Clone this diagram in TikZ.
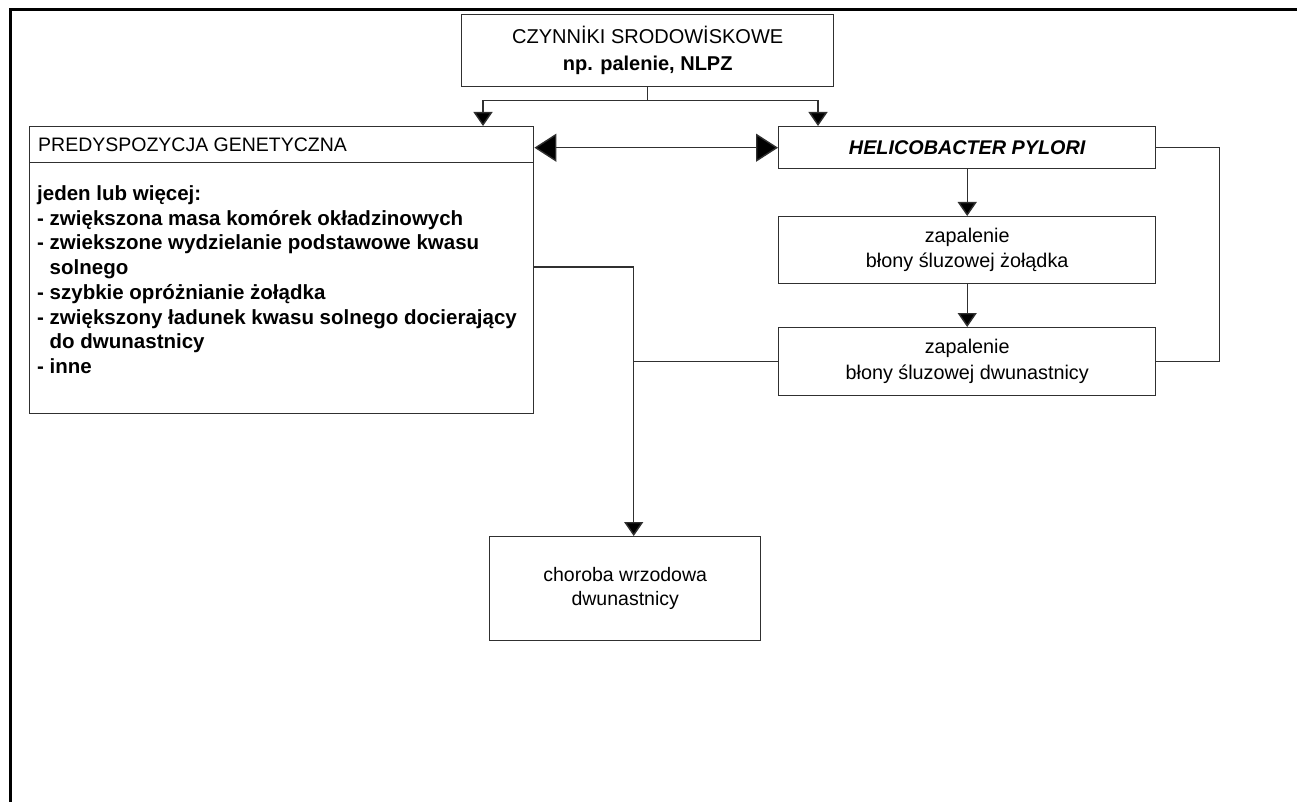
\documentclass[tikz,border=0pt]{standalone}
\usepackage{fontspec}
\setmainfont{Liberation Sans}
\usetikzlibrary{arrows.meta}
\definecolor{linegray}{HTML}{303030}
\begin{document}
\begin{tikzpicture}[x=1pt,y=-1pt,
  box/.style={draw=linegray,line width=1.4pt,inner sep=0pt,anchor=north west,align=center},
  conn/.style={draw=linegray,line width=1.4pt},
  arr/.style={conn,-{Triangle[length=14pt,width=19pt,fill=black]}},
  bigarr/.style={conn,{Triangle[length=22pt,width=28pt,fill=black]}-{Triangle[length=22pt,width=28pt,fill=black]}},
  reg/.style={font=\fontsize{19.8}{25}\selectfont},
]
\useasboundingbox (0,0) rectangle (1297,802);
\fill[white] (0,0) rectangle (1297,802);
\draw[line width=3pt] (10.5,802) -- (10.5,9.5) -- (1297,9.5);

\node[box,minimum width=372pt,minimum height=72pt,font=\fontsize{20}{27}\selectfont] (env) at (461,14)
  {CZYNNİKI SRODOWİSKOWE\\\textbf{np. palenie, NLPZ}};
\node[box,minimum width=504pt,minimum height=287pt] (pred) at (29,126) {};
\draw[conn] (pred.north west) ++(0,36.5) coordinate (divL) -- (divL -| pred.east);
\node[anchor=west,inner sep=0pt,font=\fontsize{19.5}{25}\selectfont] (predh) at (38,144.5) {PREDYSPOZYCJA GENETYCZNA};
\node[anchor=north west,inner sep=0pt,align=left,font=\fontsize{20.5}{24.7}\selectfont\bfseries] (predl) at (37,185.5)
  {jeden lub więcej:\\
   - zwiększona masa komórek okładzinowych\\
   - zwiekszone wydzielanie podstawowe kwasu\\
   \phantom{- }solnego\\
   - szybkie opróżnianie żołądka\\
   - zwiększony ładunek kwasu solnego docierający\\
   \phantom{- }do dwunastnicy\\
   - inne};

\node[box,minimum width=377pt,minimum height=42pt,font=\fontsize{19.8}{25}\selectfont\bfseries\itshape] (hp) at (778,126) {HELICOBACTER PYLORI};
\node[box,minimum width=377pt,minimum height=67pt,reg] (g) at (778,216) {zapalenie\\błony śluzowej żołądka};
\node[box,minimum width=377pt,minimum height=68pt,font=\fontsize{19.8}{26}\selectfont] (d) at (778,327) {zapalenie\\błony śluzowej dwunastnicy};
\node[box,minimum width=271pt,minimum height=104pt,font=\fontsize{19.5}{24}\selectfont] (ulcer) at (489,536) {choroba wrzodowa\\dwunastnicy};

\draw[arr] (env.south) -- ++(0,13) -| ([xshift=454pt]pred.north west);
\draw[arr] (env.south) -- ++(0,13) -| ([xshift=40pt]hp.north west);
\draw[bigarr] (pred.east |- hp.west) -- (hp.west);
\draw[arr] (hp.south) -- (g.north);
\draw[arr] (g.south) -- (d.north);
\draw[conn] (hp.east) -- ++(63,0) |- (d.east);
\draw[arr] ([yshift=-141pt]pred.north east) -| ([xshift=8.5pt]ulcer.north);
\draw[conn] (d.west) -- ([xshift=8.5pt]ulcer.north |- d.west);
\end{tikzpicture}
\end{document}
